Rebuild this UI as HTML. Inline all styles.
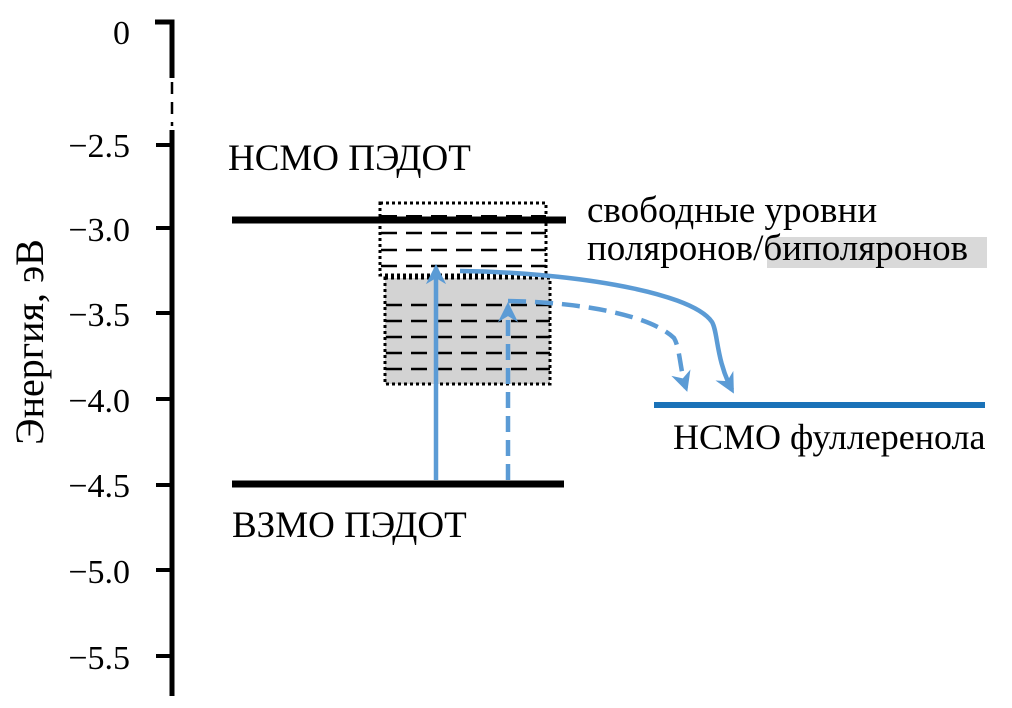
<!DOCTYPE html>
<html><head><meta charset="utf-8"><style>
html,body{margin:0;padding:0;background:#fff;}
svg{display:block;}
text{font-family:"Liberation Serif","Noto Serif CJK SC",serif;fill:#000;}
.t{font-size:34px;}
</style></head><body>
<svg width="1012" height="708" viewBox="0 0 1012 708" xmlns="http://www.w3.org/2000/svg">
<defs>
<marker id="ah" viewBox="0 0 10 10" refX="8" refY="5" markerWidth="4.5" markerHeight="4.5" orient="auto" markerUnits="strokeWidth">
<path d="M0,0 L10,5 L0,10 L3,5 z" fill="#5b9bd5"/>
</marker>
</defs>
<path d="M155,22 H172 V78" stroke="#000" stroke-width="5" fill="none"/>
<path d="M172,82 V126" stroke="#000" stroke-width="2.5" stroke-dasharray="12,8" fill="none"/>
<line x1="172" y1="130" x2="172" y2="696" stroke="#000" stroke-width="5"/>
<g stroke="#000" stroke-width="4">
<line x1="156" y1="145" x2="172" y2="145"/>
<line x1="156" y1="228" x2="172" y2="228"/>
<line x1="156" y1="313" x2="172" y2="313"/>
<line x1="156" y1="399" x2="172" y2="399"/>
<line x1="156" y1="485" x2="172" y2="485"/>
<line x1="156" y1="570" x2="172" y2="570"/>
<line x1="156" y1="656" x2="172" y2="656"/>
</g>
<text class="t" x="130" y="44" text-anchor="end">0</text>
<text class="t" x="130" y="157" text-anchor="end">−2.5</text>
<text class="t" x="130" y="241" text-anchor="end">−3.0</text>
<text class="t" x="130" y="326" text-anchor="end">−3.5</text>
<text class="t" x="130" y="412" text-anchor="end">−4.0</text>
<text class="t" x="130" y="497" text-anchor="end">−4.5</text>
<text class="t" x="130" y="583" text-anchor="end">−5.0</text>
<text class="t" x="130" y="669" text-anchor="end">−5.5</text>
<text x="0" y="0" font-size="40" text-anchor="middle" transform="translate(43,342) rotate(-90)">Энергия, эВ</text>
<rect x="380" y="203" width="166" height="72" fill="none" stroke="#000" stroke-width="3" stroke-dasharray="3,3"/>
<rect x="385" y="278" width="165" height="106" fill="#d3d3d3" stroke="#000" stroke-width="3" stroke-dasharray="3,3"/>
<g stroke="#000" stroke-width="2.5" stroke-dasharray="16,9">
<line x1="381" y1="217" x2="546" y2="217" stroke-width="4"/>
<line x1="381" y1="233" x2="546" y2="233"/>
<line x1="381" y1="250" x2="546" y2="250"/>
<line x1="381" y1="266" x2="546" y2="266"/>
<line x1="386" y1="305" x2="550" y2="305"/>
<line x1="386" y1="321" x2="550" y2="321"/>
<line x1="386" y1="337" x2="550" y2="337"/>
<line x1="386" y1="353" x2="550" y2="353"/>
<line x1="386" y1="369" x2="550" y2="369"/>
</g>
<line x1="232" y1="220" x2="566" y2="220" stroke="#000" stroke-width="7"/>
<line x1="232" y1="484" x2="564" y2="484" stroke="#000" stroke-width="7"/>
<line x1="654" y1="405" x2="985" y2="405" stroke="#1a72b8" stroke-width="6"/>
<line x1="436" y1="480" x2="436" y2="268" stroke="#5b9bd5" stroke-width="4.5" marker-end="url(#ah)"/>
<line x1="508" y1="480" x2="508" y2="306" stroke="#5b9bd5" stroke-width="4.5" stroke-dasharray="16,8" marker-end="url(#ah)"/>
<path d="M460,271 C560,272 690,290 712,322 C718,332 716,360 732,390" stroke="#5b9bd5" stroke-width="4.5" fill="none" marker-end="url(#ah)"/>
<path d="M508,301 C580,302 650,315 674,338 C680,348 680,370 686,388" stroke="#5b9bd5" stroke-width="4.5" fill="none" stroke-dasharray="18,9" marker-end="url(#ah)"/>
<text x="228" y="170" font-size="37">НСМО ПЭДОТ</text>
<text x="232" y="537" font-size="37">ВЗМО ПЭДОТ</text>
<rect x="767" y="237" width="220" height="31" fill="#d9d9d9"/>
<text x="587" y="222" font-size="37">свободные уровни</text>
<text x="587" y="260" font-size="37">поляронов/биполяронов</text>
<text x="673" y="449" font-size="36">НСМО фуллеренола</text>
</svg>
</body></html>
